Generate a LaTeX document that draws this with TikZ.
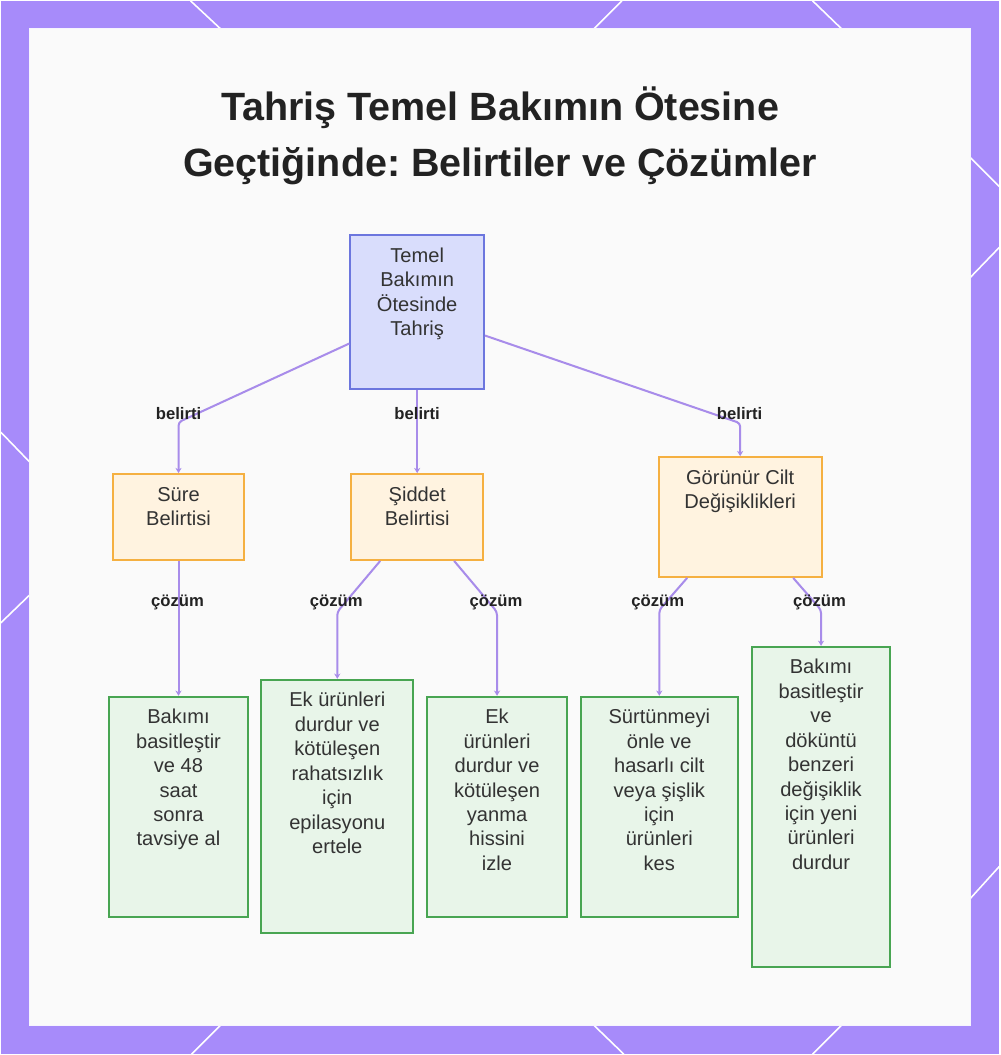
\documentclass[tikz,border=0pt]{standalone}
\usepackage{fontspec}
\setmainfont{Liberation Sans}
\usepackage{xcolor}
\usetikzlibrary{positioning,arrows.meta,calc}
\definecolor{framebg}{RGB}{167,139,250}
\definecolor{panelbg}{RGB}{250,250,250}
\definecolor{rootfill}{RGB}{217,221,252}
\definecolor{rootline}{RGB}{108,118,222}
\definecolor{symfill}{RGB}{255,243,224}
\definecolor{symline}{RGB}{245,176,65}
\definecolor{fixfill}{RGB}{232,245,233}
\definecolor{fixline}{RGB}{72,165,82}
\definecolor{linkc}{RGB}{168,140,234}
\definecolor{txtc}{RGB}{51,51,51}
\definecolor{titlec}{RGB}{34,34,34}
\newlength{\pxu}
\setlength{\pxu}{0.02cm}
\frenchspacing
% box text sits at the top of a fixed-size box
\newcommand{\boxtxt}[3]{\parbox[c][#2\pxu][t]{#1\pxu}{\centering\rule{0pt}{27\pxu}#3}}
\tikzset{
  box/.style={draw, line width=1.1pt, inner sep=0pt, text=txtc,
              font=\fontsize{11.45}{13.94}\selectfont},
  rootbox/.style={box, draw=rootline, fill=rootfill},
  symbox/.style={box, draw=symline, fill=symfill},
  fixbox/.style={box, draw=fixline, fill=fixfill},
  link/.style={draw=linkc, line width=1.15pt, rounded corners=2pt,
               -{Stealth[length=3pt, width=3.5pt]}},
  lbl/.style={font=\bfseries\fontsize{9.5}{11}\selectfont, text=titlec, inner sep=0pt},
  title/.style={font=\bfseries\fontsize{22.5}{31.9}\selectfont, text=titlec,
                align=center, inner sep=0pt},
  deco/.style={white, line width=0.9pt}
}

\begin{document}
\begin{tikzpicture}[x=0.02cm, y=-0.02cm]
% frame and panel
\fill[framebg] (0,0) rectangle (1000,1055);
\foreach \xa/\ya/\xb/\yb in {190/0/220/28, 622/0/594/28, 813/0/842/28,
    220/1026/191/1055, 594/1026/624/1055, 842/1026/813/1055,
    0/432/29/462, 0/623/29/595,
    971/157/1000/186, 1000/247/971/277, 1000/867/971/899}
  \draw[deco] (\xa,\ya) -- (\xb,\yb);
\fill[panelbg] (29,28) rectangle (971,1026);
\draw[white!90!framebg, line width=0.6pt] (29,28) rectangle (971,1026);

\node[title] (title) at (500,135) {Tahriş Temel Bakımın Ötesine\\Geçtiğinde: Belirtiler ve Çözümler};

\node[rootbox] (root) at (417,312) {\boxtxt{134}{154}{Temel\\Bakımın\\Ötesinde\\Tahriş}};

\node[symbox] (sure) at (178,517) {\boxtxt{132}{86}{Süre\\Belirtisi}};
\node[symbox] (siddet) at (417,517) {\boxtxt{132}{86}{Şiddet\\Belirtisi}};
\node[symbox] (gorunur) at (740.5,517) {\boxtxt{163}{120}{Görünür Cilt\\Değişiklikleri}};

\node[fixbox] (fixa) at (178,807.5) {\boxtxt{140}{221}{Bakımı\\basitleştir\\ve 48\\saat\\sonra\\tavsiye al}};
\node[fixbox] (fixb) at (337,807) {\boxtxt{152}{254}{Ek ürünleri\\durdur ve\\kötüleşen\\rahatsızlık\\için\\epilasyonu\\ertele}};
\node[fixbox] (fixc) at (497,807.5) {\boxtxt{140}{221}{Ek\\ürünleri\\durdur ve\\kötüleşen\\yanma\\hissini\\izle}};
\node[fixbox] (fixd) at (659.5,807.5) {\boxtxt{157}{221}{Sürtünmeyi\\önle ve\\hasarlı cilt\\veya şişlik\\için\\ürünleri\\kes}};
\node[fixbox] (fixe) at (821.5,807.5) {\boxtxt{139}{321}{Bakımı\\basitleştir\\ve\\döküntü\\benzeri\\değişiklik\\için yeni\\ürünleri\\durdur}};

% bends
\coordinate (k1) at (178,422);
\coordinate (k3) at (740.5,423);
\coordinate (k5) at (337,612);
\coordinate (k6) at (497,612);
\coordinate (k7) at (659.5,610);
\coordinate (k8) at (821.5,610);

\draw[link] (root) -- (k1) -- (sure);
\draw[link] (root) -- (siddet);
\draw[link] (root) -- (k3) -- (gorunur);
\draw[link] (sure) -- (fixa);
\draw[link] (siddet) -- (k5) -- (fixb);
\draw[link] (siddet) -- (k6) -- (fixc);
\draw[link] (gorunur) -- (k7) -- (fixd);
\draw[link] (gorunur) -- (k8) -- (fixe);

\node[lbl] (l1) at (178,413) {belirti};
\node[lbl] (l2) at (417,413) {belirti};
\node[lbl] (l3) at (740,413) {belirti};
\node[lbl] (l4) at (177,603) {çözüm};
\node[lbl] (l5) at (336,603) {çözüm};
\node[lbl] (l6) at (496,603) {çözüm};
\node[lbl] (l7) at (658,603) {çözüm};
\node[lbl] (l8) at (820,603) {çözüm};
\end{tikzpicture}
\end{document}
